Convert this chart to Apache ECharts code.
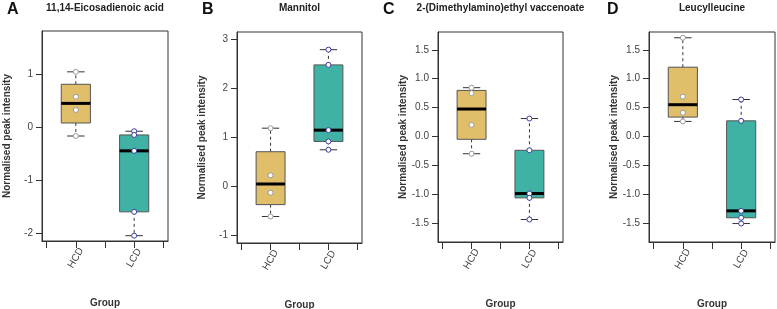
<!DOCTYPE html>
<html>
<head>
<meta charset="utf-8">
<script src="https://cdn.jsdelivr.net/npm/echarts@6.0.0/dist/echarts.min.js"></script>
<style>
  html, body { margin: 0; padding: 0; background: #fff; }
  #chart { width: 777px; height: 309px; }
</style>
</head>
<body>
<div id="chart"></div>
<script>
// groups and panels
const groups = ['HCD', 'LCD'];
const letters = ['A', 'B', 'C', 'D'];
const titles = ['11,14-Eicosadienoic acid', 'Mannitol', '2-(Dimethylamino)ethyl vaccenoate', 'Leucylleucine'];

// individual samples
const hcdA = [1.04, 0.57, 0.32, -0.17];
const lcdA = [-0.08, -0.15, -0.45, -1.60, -2.05];
const hcdB = [1.18, 0.22, -0.135, -0.62];
const lcdB = [2.78, 2.47, 1.14, 0.91, 0.74];
const hcdC = [0.845, 0.75, 0.20, -0.30];
const lcdC = [0.31, -0.24, -0.99, -1.065, -1.44];
const hcdD = [1.71, 0.69, 0.41, 0.26];
const lcdD = [0.64, 0.27, -1.29, -1.41, -1.51];

// y tick labels per panel
const ticksA = [-2, -1, 0, 1];
const ticksB = [-1, 0, 1, 2, 3];
const ticksC = [-1.5, -1.0, -0.5, 0.0, 0.5, 1.0, 1.5];
const ticksD = [-1.5, -1.0, -0.5, 0.0, 0.5, 1.0, 1.5];

const yRanges = [[-2.15, 1.81], [-1.16, 3.14], [-1.83, 1.81], [-1.83, 1.81]];
const decimals = [0, 0, 1, 1];

const panelData = [[hcdA, lcdA], [hcdB, lcdB], [hcdC, lcdC], [hcdD, lcdD]];
const panelTicks = [ticksA, ticksB, ticksC, ticksD];

// plot boxes in px: left, top, width, height
const boxes = [
  [42, 31, 126, 210],
  [237, 32, 125, 211],
  [438, 32, 125, 210],
  [649, 32, 126, 210],
];

const fillColors = ['#E1BE6A', '#3FB1A5'];
const pointBorder = ['#9a9a9a', '#3c3ca0'];
const font = 'Liberation Sans, Arial, sans-serif';

// R style fivenum (Tukey hinges)
function fivenum(arr) {
  const x = arr.slice().sort((a, b) => a - b);
  const n = x.length;
  const n4 = Math.floor((n + 3) / 2) / 2;
  const d = [1, n4, (n + 1) / 2, n + 1 - n4, n];
  return d.map((v) => 0.5 * (x[Math.floor(v) - 1] + x[Math.ceil(v) - 1]));
}

function renderBox(params, api) {
  const xv = api.value(0);
  const s = [1, 2, 3, 4, 5].map((i) => api.value(i));
  const half = 0.25;
  const cap = 0.15;
  const p = (x, y) => api.coord([x, y]);
  const lineStyle = { stroke: '#333', lineWidth: 1 };
  const dashStyle = { stroke: '#333', lineWidth: 1, lineDash: [3, 3] };
  const tl = p(xv - half, s[3]);
  const br = p(xv + half, s[1]);
  const color = fillColors[params.dataIndex];
  const line = (a, b, style) => ({
    type: 'line',
    shape: { x1: a[0], y1: a[1], x2: b[0], y2: b[1] },
    style: style,
  });
  return {
    type: 'group',
    children: [
      line(p(xv, s[3]), p(xv, s[4]), dashStyle),
      line(p(xv, s[1]), p(xv, s[0]), dashStyle),
      line(p(xv - cap, s[4]), p(xv + cap, s[4]), lineStyle),
      line(p(xv - cap, s[0]), p(xv + cap, s[0]), lineStyle),
      {
        type: 'rect',
        shape: { x: tl[0], y: tl[1], width: br[0] - tl[0], height: br[1] - tl[1] },
        style: { fill: color, stroke: '#555', lineWidth: 1 },
      },
      line(p(xv - half, s[2]), p(xv + half, s[2]), { stroke: '#000', lineWidth: 3 }),
    ],
  };
}

const grid = [];
const xAxis = [];
const yAxis = [];
const series = [];
const title = [];

boxes.forEach((b, i) => {
  grid.push({
    left: b[0], top: b[1], width: b[2], height: b[3],
    outerBoundsMode: 'none',
    containLabel: false,
    show: true, borderColor: '#333', borderWidth: 1, backgroundColor: 'transparent',
  });
  xAxis.push({
    gridIndex: i,
    type: 'value',
    min: 0.42,
    max: 2.58,
    name: 'Group',
    nameLocation: 'middle',
    nameGap: 57,
    nameTextStyle: { fontFamily: font, fontSize: 10, fontWeight: 'bold', color: '#333' },
    axisLine: { show: true, onZero: false, lineStyle: { color: '#333' } },
    axisTick: { show: true, length: 7, lineStyle: { color: '#333' }, customValues: [0.5, 1, 1.5, 2, 2.5] },
    axisLabel: {
      customValues: [1, 2],
      rotate: 60,
      align: 'center',
      verticalAlign: 'middle',
      margin: 17,
      fontFamily: font,
      fontSize: 10,
      color: '#444',
      formatter: (v) => groups[Math.round(v) - 1],
    },
    splitLine: { show: false },
  });
  yAxis.push({
    gridIndex: i,
    type: 'value',
    min: yRanges[i][0],
    max: yRanges[i][1],
    name: 'Normalised peak intensity',
    nameLocation: 'middle',
    nameGap: 30,
    nameTextStyle: { fontFamily: font, fontSize: 10, fontWeight: 'bold', color: '#333' },
    axisLine: { show: true, onZero: false, lineStyle: { color: '#333' } },
    axisTick: { show: true, length: 6, lineStyle: { color: '#333' }, customValues: panelTicks[i] },
    axisLabel: {
      customValues: panelTicks[i],
      margin: 9,
      fontFamily: font,
      fontSize: 10,
      color: '#444',
      formatter: (v) => v.toFixed(decimals[i]),
    },
    splitLine: { show: false },
  });

  const [hcd, lcd] = panelData[i];
  series.push({
    type: 'custom',
    xAxisIndex: i,
    yAxisIndex: i,
    clip: false,
    renderItem: renderBox,
    encode: { x: 0, y: [1, 2, 3, 4, 5] },
    data: [[1].concat(fivenum(hcd)), [2].concat(fivenum(lcd))],
    z: 2,
  });
  [hcd, lcd].forEach((vals, g) => {
    series.push({
      type: 'scatter',
      xAxisIndex: i,
      yAxisIndex: i,
      symbol: 'circle',
      symbolSize: 5,
      itemStyle: { color: '#fff', borderColor: pointBorder[g], borderWidth: 1, opacity: 1 },
      data: vals.map((v) => [g + 1, v]),
      z: 5,
    });
  });

  title.push({
    text: titles[i],
    left: b[0] + b[2] / 2,
    top: 3,
    padding: 0,
    textAlign: 'center',
    textStyle: { fontFamily: font, fontSize: 10, fontWeight: 'bold', color: '#222' },
  });
});

const letterX = [7, 202, 383, 607];
letters.forEach((l, i) => {
  title.push({
    text: l,
    left: letterX[i],
    top: 2,
    padding: 0,
    textStyle: { fontFamily: font, fontSize: 16, fontWeight: 'bold', color: '#111' },
  });
});

const chart = echarts.init(document.getElementById('chart'), null, { renderer: 'canvas' });
chart.setOption({
  animation: false,
  backgroundColor: '#fff',
  title: title,
  grid: grid,
  xAxis: xAxis,
  yAxis: yAxis,
  series: series,
});
</script>
</body>
</html>
